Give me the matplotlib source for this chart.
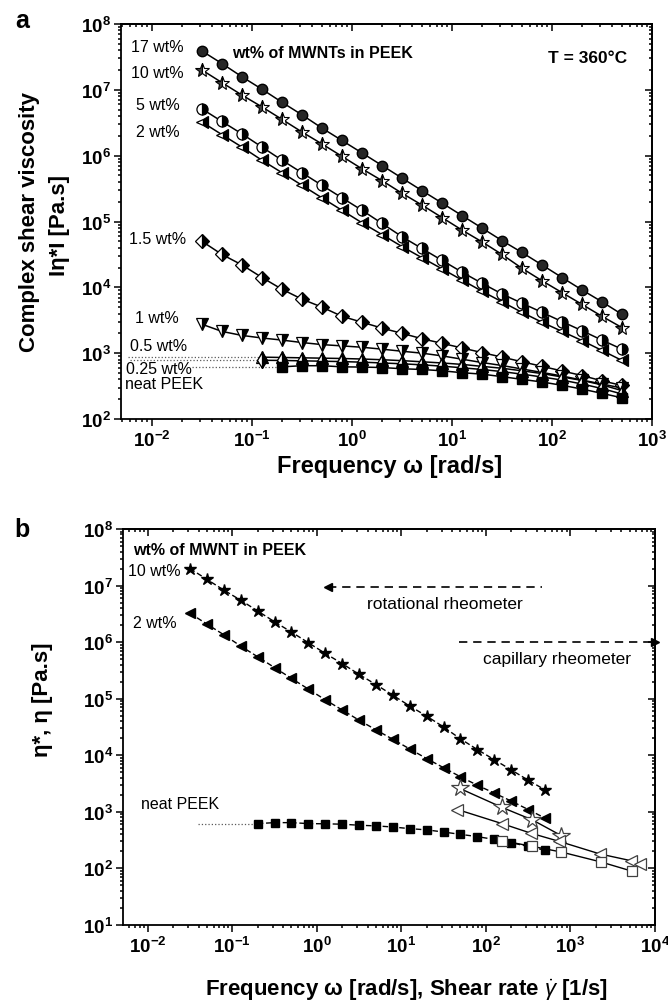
import numpy as np
import matplotlib
matplotlib.use('Agg')
import matplotlib.pyplot as plt
from matplotlib.ticker import LogLocator, FuncFormatter, NullFormatter

plt.rcParams['font.family'] = ['Liberation Sans', 'DejaVu Sans']
plt.rcParams['mathtext.fontset'] = 'custom'
plt.rcParams['mathtext.rm'] = 'Liberation Sans'
plt.rcParams['mathtext.bf'] = 'Liberation Sans:bold'
plt.rcParams['mathtext.it'] = 'Liberation Sans:italic'

# ---------------- data ----------------
freq = [0.0316, 0.05, 0.0794, 0.126, 0.2, 0.316, 0.5, 0.794, 1.26, 2.0, 3.16,
        5.0, 7.94, 12.6, 20.0, 31.6, 50.0, 79.4, 126, 200, 316, 500]

eta_17 = [3.89e7, 2.51e7, 1.58e7, 1.02e7, 6.46e6, 4.17e6, 2.63e6, 1.70e6, 1.10e6, 7.08e5,
          4.57e5, 2.95e5, 1.91e5, 1.23e5, 7.94e4, 5.13e4, 3.39e4, 2.19e4, 1.41e4, 9.12e3,
          6.03e3, 3.89e3]
eta_10 = [2.0e7, 1.29e7, 8.32e6, 5.50e6, 3.55e6, 2.29e6, 1.51e6, 9.77e5, 6.31e5, 4.17e5,
          2.69e5, 1.78e5, 1.15e5, 7.41e4, 4.90e4, 3.16e4, 1.95e4, 1.26e4, 8.32e3, 5.50e3,
          3.63e3, 2.45e3]
eta_5 = [5.13e6, 3.31e6, 2.14e6, 1.35e6, 8.51e5, 5.50e5, 3.55e5, 2.29e5, 1.48e5, 9.33e4,
         5.89e4, 3.89e4, 2.57e4, 1.70e4, 1.15e4, 7.94e3, 5.75e3, 4.17e3, 3.02e3, 2.19e3,
         1.58e3, 1.15e3]
eta_2 = [3.24e6, 2.09e6, 1.35e6, 8.51e5, 5.50e5, 3.55e5, 2.29e5, 1.48e5, 9.55e4, 6.31e4,
         4.17e4, 2.82e4, 1.91e4, 1.29e4, 8.71e3, 6.03e3, 4.17e3, 2.95e3, 2.14e3, 1.55e3,
         1.10e3, 776]
eta_15 = [5.01e4, 3.16e4, 2.19e4, 1.41e4, 9.33e3, 6.61e3, 5.01e3, 3.63e3, 2.95e3, 2.40e3,
          2.0e3, 1.66e3, 1.41e3, 1.20e3, 1.02e3, 871, 741, 631, 537, 457, 380, 324]
eta_1 = [2750, 2140, 1860, 1700, 1580, 1450, 1350, 1290, 1230, 1150, 1070, 1000, 910, 810,
         720, 650, 575, 510, 450, 390, 340, 295]
eta_05 = [870, 860, 850, 840, 830, 815, 795, 770, 740, 710, 675, 630, 590, 540, 490, 435,
          385, 330, 270]                      # from 0.126 rad/s
eta_025 = [780, 775, 765, 755, 745, 730, 710, 690, 665, 635, 600, 565, 525, 480, 435, 390,
           340, 290, 240]                     # from 0.126 rad/s
eta_neat = [620, 645, 645, 620, 615, 605, 580, 565, 540, 505, 480, 440, 400, 365, 325, 285,
            245, 210]                         # from 0.2 rad/s

# capillary rheometer data (panel b)
cap10_rate = [49, 155, 355, 780]
cap10_eta = [2600, 1200, 720, 380]
cap2_rate = [46, 155, 340, 740, 2240, 5200, 6600]
cap2_eta = [1100, 620, 420, 300, 180, 137, 118]
capn_rate = [155, 355, 780, 2300, 5400]
capn_eta = [310, 245, 195, 130, 89]

labels_a = ['17 wt%', '10 wt%', '5 wt%', '2 wt%', '1.5 wt%', '1 wt%', '0.5 wt%',
            '0.25 wt%', 'neat PEEK']

W, H = 668, 1003
fig = plt.figure(figsize=(W / 100, H / 100), dpi=100)

def axes_px(l, t, r, b):
    return fig.add_axes([l / W, 1 - b / H, (r - l) / W, (b - t) / H])

ax1 = axes_px(121, 25, 652, 420)
ax2 = axes_px(123, 530, 655, 926)

fmt = FuncFormatter(lambda v, p: r'$\mathbf{10^{%d}}$' % int(round(np.log10(v))))

def style_axes(ax, xlim, ylim):
    ax.set_xscale('log')
    ax.set_yscale('log')
    ax.set_xlim(*xlim)
    ax.set_ylim(*ylim)
    for a in (ax.xaxis, ax.yaxis):
        a.set_major_locator(LogLocator(base=10, numticks=20))
        a.set_minor_locator(LogLocator(base=10, subs=np.arange(2, 10), numticks=20))
        a.set_major_formatter(fmt)
        a.set_minor_formatter(NullFormatter())
    ax.tick_params(which='both', direction='out', top=False, right=False, width=1.1,
                   labelsize=13.5)
    ax.tick_params(which='major', length=5)
    ax.tick_params(which='minor', length=2.5)
    ax.tick_params(axis='x', pad=3)
    ax.tick_params(axis='y', pad=2)
    for s in ax.spines.values():
        s.set_linewidth(1.3)
    secx = ax.secondary_xaxis('top')
    secy = ax.secondary_yaxis('right')
    for sec, a in ((secx, secx.xaxis), (secy, secy.yaxis)):
        a.set_major_locator(LogLocator(base=10, numticks=20))
        a.set_minor_locator(LogLocator(base=10, subs=np.arange(2, 10), numticks=20))
        a.set_major_formatter(NullFormatter())
        a.set_minor_formatter(NullFormatter())
        sec.tick_params(which='both', direction='in', width=1.1)
        sec.tick_params(which='major', length=5)
        sec.tick_params(which='minor', length=2.5)
        for s in sec.spines.values():
            s.set_linewidth(1.3)

style_axes(ax1, (0.0049, 1000), (1e2, 1e8))
style_axes(ax2, (0.0051, 1e4), (1e1, 1e8))

# ---------------- panel a ----------------
half = dict(markerfacecolor='black', markerfacecoloralt='white', markeredgecolor='black',
            fillstyle='right', markeredgewidth=0.9)
lw = 1.1
ax1.plot(freq, eta_17, '-', color='black', lw=lw, marker='o', ms=7.5,
         markerfacecolor='#262626', markeredgecolor='black', zorder=3)
ax1.plot(freq, eta_10, '-', color='black', lw=lw, marker='*', ms=10,
         markerfacecolor='#404040', markerfacecoloralt='white', fillstyle='left',
         markeredgecolor='black', markeredgewidth=0.8, zorder=3)
ax1.plot(freq, eta_5, '-', color='black', lw=lw, marker='o', ms=8, zorder=3, **half)
ax1.plot(freq, eta_2, '-', color='black', lw=lw, marker='<', ms=8, zorder=3, **half)
ax1.plot(freq, eta_15, '-', color='black', lw=lw, marker='D', ms=7, zorder=3, **half)
ax1.plot(freq, eta_1, '-', color='black', lw=lw, marker='v', ms=8, zorder=3, **half)
ax1.plot(freq[3:], eta_05, '-', color='black', lw=lw, marker='^', ms=8, zorder=3, **half)
ax1.plot(freq[3:], eta_025, '-', color='black', lw=lw, marker='d', ms=8, zorder=3, **half)
ax1.plot(freq[4:], eta_neat, '-', color='black', lw=lw, marker='s', ms=7,
         markerfacecolor='black', markeredgecolor='black', zorder=3)

# dotted leader lines from labels to the low-concentration curves
ax1.plot([0.0058, freq[3]], [eta_05[0], eta_05[0]], ':', color='0.35', lw=0.9)
ax1.plot([0.0060, freq[3]], [eta_025[0], eta_025[0]], ':', color='0.35', lw=0.9)
ax1.plot([0.025, freq[4]], [eta_neat[0], eta_neat[0]], ':', color='0.35', lw=0.9)

lab_pos_a = [(0.068, 0.944), (0.068, 0.876), (0.070, 0.795), (0.070, 0.729),
             (0.068, 0.456), (0.068, 0.258), (0.070, 0.185), (0.072, 0.129),
             (0.081, 0.089)]
for txt, (fx, fy) in zip(labels_a, lab_pos_a):
    ax1.text(fx, fy, txt, transform=ax1.transAxes, ha='center', va='center',
             fontsize=11.5)
ax1.text(0.380, 0.929, 'wt% of MWNTs in PEEK', transform=ax1.transAxes, ha='center',
         va='center', fontsize=11.5, fontweight='bold')
ax1.text(0.879, 0.916, 'T = 360°C', transform=ax1.transAxes, ha='center', va='center',
         fontsize=12.5, fontweight='bold')

# ---------------- panel b ----------------
dash = (0, (4, 2))
ax2.plot(freq, eta_10, linestyle=dash, color='black', lw=1.0, marker='*', ms=9,
         markerfacecolor='black', markeredgecolor='black', zorder=3)
ax2.plot(freq, eta_2, linestyle=dash, color='black', lw=1.0, marker='<', ms=7,
         markerfacecolor='black', markeredgecolor='black', zorder=3)
ax2.plot(freq[4:], eta_neat, linestyle=dash, color='black', lw=1.0, marker='s', ms=6,
         markerfacecolor='black', markeredgecolor='black', zorder=3)
ax2.plot(cap10_rate, cap10_eta, '-', color='black', lw=1.0, marker='*', ms=13,
         markerfacecolor='white', markeredgecolor='0.25', markeredgewidth=0.9, zorder=4)
ax2.plot(cap2_rate, cap2_eta, '-', color='black', lw=1.0, marker='<', ms=9,
         markerfacecolor='white', markeredgecolor='0.25', markeredgewidth=0.9, zorder=4)
ax2.plot(capn_rate, capn_eta, '-', color='black', lw=1.0, marker='s', ms=7,
         markerfacecolor='white', markeredgecolor='0.25', markeredgewidth=0.9, zorder=4)
ax2.plot([0.039, freq[4]], [eta_neat[0], eta_neat[0]], ':', color='0.35', lw=0.9)

# rheometer range arrows
ax2.plot([1.35, 455], [9.6e6, 9.6e6], linestyle=(0, (5, 3.5)), color='black', lw=1.2)
ax2.plot([1.35], [9.6e6], marker='<', ms=6, color='black')
ax2.plot([48, 1e4], [1.0e6, 1.0e6], linestyle=(0, (5, 3.5)), color='black', lw=1.2,
         clip_on=False)
ax2.plot([1e4], [1.0e6], marker='>', ms=6, color='black', clip_on=False)

ax2.text(0.182, 0.947, 'wt% of MWNT in PEEK', transform=ax2.transAxes, ha='center',
         va='center', fontsize=11.5, fontweight='bold')
ax2.text(0.058, 0.894, '10 wt%', transform=ax2.transAxes, ha='center', va='center',
         fontsize=11.5)
ax2.text(0.060, 0.765, '2 wt%', transform=ax2.transAxes, ha='center', va='center',
         fontsize=11.5)
ax2.text(0.107, 0.306, 'neat PEEK', transform=ax2.transAxes, ha='center', va='center',
         fontsize=11.5)
ax2.text(0.605, 0.813, 'rotational rheometer', transform=ax2.transAxes, ha='center',
         va='center', fontsize=12.5)
ax2.text(0.816, 0.672, 'capillary rheometer', transform=ax2.transAxes, ha='center',
         va='center', fontsize=12.5)

# ---------------- labels ----------------
fig.text(30 / W, 1 - 222 / H, 'Complex shear viscosity', rotation=90, ha='center',
         va='center', fontsize=16, fontweight='bold')
fig.text(60 / W, 1 - 226 / H, 'Iη*I [Pa.s]', rotation=90, ha='center', va='center',
         fontsize=16, fontweight='bold')
fig.text(390 / W, 1 - 467 / H, 'Frequency ω [rad/s]', ha='center', va='center',
         fontsize=17, fontweight='bold')
fig.text(43 / W, 1 - 700 / H, 'η*, η [Pa.s]', rotation=90, ha='center', va='center',
         fontsize=16, fontweight='bold')
fig.text(406 / W, 1 - 990 / H, r'Frequency ω [rad/s], Shear rate $\dot{\gamma}$ [1/s]',
         ha='center', va='center', fontsize=16, fontweight='bold')
fig.text(22 / W, 1 - 21 / H, 'a', ha='center', va='center', fontsize=18,
         fontweight='bold')
fig.text(22 / W, 1 - 530 / H, 'b', ha='center', va='center', fontsize=18,
         fontweight='bold')

fig.savefig('out.png', dpi=100, facecolor='white')
